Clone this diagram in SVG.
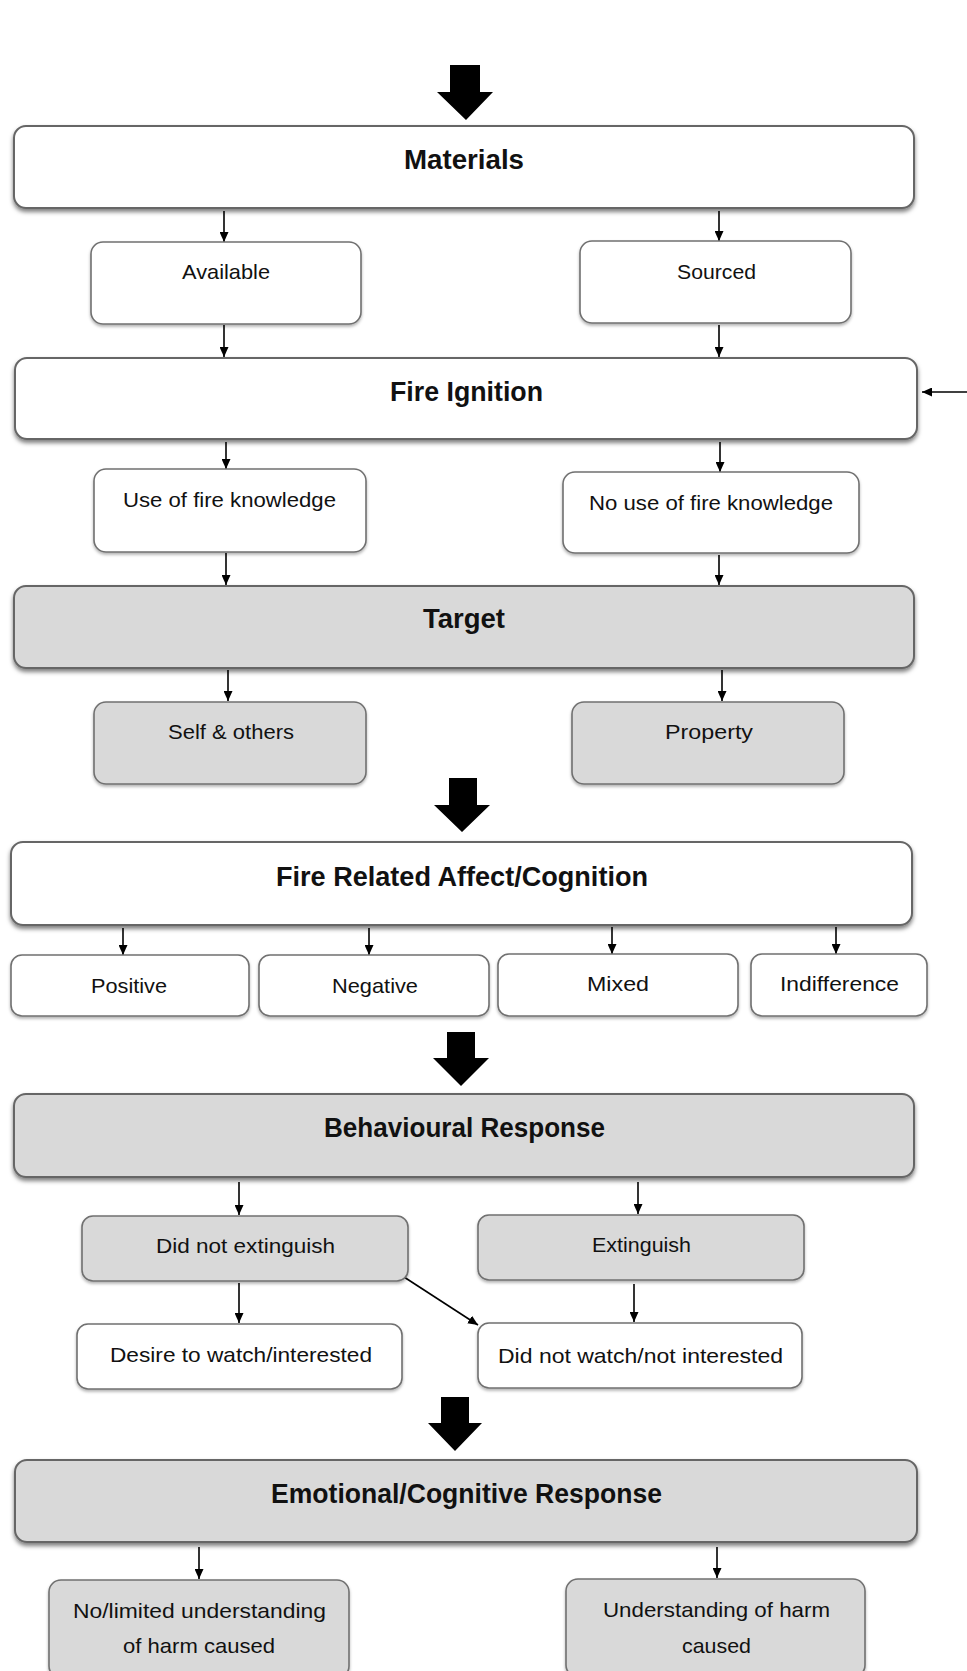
<svg xmlns="http://www.w3.org/2000/svg" width="967" height="1671" viewBox="0 0 967 1671">
<defs>
<style>
.big{stroke:#666;stroke-width:2;filter:url(#shBig)}
.sm{stroke:#707070;stroke-width:1.6;filter:url(#shSm)}
.w{fill:#fff}
.g{fill:#d9d9d9}
.h{font-family:"Liberation Sans",Arial,sans-serif;font-weight:bold;font-size:27px;fill:#111;text-anchor:middle}
.t{font-family:"Liberation Sans",Arial,sans-serif;font-size:21px;fill:#111;text-anchor:middle}
.c{stroke:#000;stroke-width:1.6;fill:none;marker-end:url(#ah)}
.thick{fill:#000}
</style>
<filter id="shBig" x="-5%" y="-20%" width="110%" height="150%">
<feDropShadow dx="0" dy="3" stdDeviation="2" flood-color="#000" flood-opacity="0.5"/>
</filter>
<filter id="shSm" x="-5%" y="-20%" width="110%" height="150%">
<feDropShadow dx="0" dy="2" stdDeviation="1.5" flood-color="#000" flood-opacity="0.3"/>
</filter>
<marker id="ah" markerUnits="userSpaceOnUse" markerWidth="10" markerHeight="9" refX="10" refY="4.5" orient="auto">
<path d="M0,0 L10,4.5 L0,9 z" fill="#000"/>
</marker>
</defs>
<rect width="967" height="1671" fill="#fff"/>

<g id="connectors">
<polygon class="thick" points="450,65 480,65 480,92 493,92 466,120 437,92 450,92"/>
<polygon class="thick" points="449,778 477,778 477,805 490,805 462,832 434,805 449,805"/>
<polygon class="thick" points="447,1032 475,1032 475,1058 489,1058 461,1086 433,1058 447,1058"/>
<polygon class="thick" points="441,1397 469,1397 469,1423 482,1423 455,1451 428,1423 441,1423"/>
<line class="c" x1="224" y1="211" x2="224" y2="242"/>
<line class="c" x1="719" y1="211" x2="719" y2="241"/>
<line class="c" x1="224" y1="325" x2="224" y2="357"/>
<line class="c" x1="719" y1="325" x2="719" y2="357"/>
<line class="c" x1="967" y1="392" x2="922" y2="392"/>
<line class="c" x1="226" y1="442" x2="226" y2="469"/>
<line class="c" x1="720" y1="442" x2="720" y2="472"/>
<line class="c" x1="226" y1="553" x2="226" y2="585"/>
<line class="c" x1="719" y1="555" x2="719" y2="585"/>
<line class="c" x1="228" y1="670" x2="228" y2="701"/>
<line class="c" x1="722" y1="670" x2="722" y2="701"/>
<line class="c" x1="123" y1="928" x2="123" y2="955"/>
<line class="c" x1="369" y1="928" x2="369" y2="955"/>
<line class="c" x1="612" y1="927" x2="612" y2="954"/>
<line class="c" x1="836" y1="927" x2="836" y2="954"/>
<line class="c" x1="239" y1="1182" x2="239" y2="1215"/>
<line class="c" x1="638" y1="1182" x2="638" y2="1214"/>
<line class="c" x1="239" y1="1283" x2="239" y2="1323"/>
<line class="c" x1="634" y1="1284" x2="634" y2="1322"/>
<line class="c" x1="404" y1="1277" x2="478" y2="1325"/>
<line class="c" x1="199" y1="1547" x2="199" y2="1579"/>
<line class="c" x1="717" y1="1547" x2="717" y2="1578"/>
</g>

<g id="materials"><rect class="big w" x="14" y="126" width="900" height="82" rx="12"/><text class="h" x="464" y="169" textLength="120" lengthAdjust="spacingAndGlyphs">Materials</text></g>
<g id="available"><rect class="sm w" x="91" y="242" width="270" height="82" rx="12"/><text class="t" x="226" y="279" textLength="88" lengthAdjust="spacingAndGlyphs">Available</text></g>
<g id="sourced"><rect class="sm w" x="580" y="241" width="271" height="82" rx="12"/><text class="t" x="716.5" y="279" textLength="79" lengthAdjust="spacingAndGlyphs">Sourced</text></g>
<g id="fire-ignition"><rect class="big w" x="15" y="358" width="902" height="81" rx="12"/><text class="h" x="466.5" y="401" textLength="153" lengthAdjust="spacingAndGlyphs">Fire Ignition</text></g>
<g id="use-knowledge"><rect class="sm w" x="94" y="469" width="272" height="83" rx="12"/><text class="t" x="229.5" y="507" textLength="213" lengthAdjust="spacingAndGlyphs">Use of fire knowledge</text></g>
<g id="no-use-knowledge"><rect class="sm w" x="563" y="472" width="296" height="81" rx="12"/><text class="t" x="711" y="510" textLength="244" lengthAdjust="spacingAndGlyphs">No use of fire knowledge</text></g>
<g id="target"><rect class="big g" x="14" y="586" width="900" height="82" rx="12"/><text class="h" x="464" y="628" textLength="82" lengthAdjust="spacingAndGlyphs">Target</text></g>
<g id="self-others"><rect class="sm g" x="94" y="702" width="272" height="82" rx="12"/><text class="t" x="231" y="739" textLength="126" lengthAdjust="spacingAndGlyphs">Self &amp; others</text></g>
<g id="property"><rect class="sm g" x="572" y="702" width="272" height="82" rx="12"/><text class="t" x="709" y="739" textLength="88" lengthAdjust="spacingAndGlyphs">Property</text></g>
<g id="fire-related"><rect class="big w" x="11" y="842" width="901" height="83" rx="12"/><text class="h" x="462" y="886" textLength="372" lengthAdjust="spacingAndGlyphs">Fire Related Affect/Cognition</text></g>
<g id="positive"><rect class="sm w" x="11" y="955" width="238" height="61" rx="11"/><text class="t" x="129" y="993" textLength="76" lengthAdjust="spacingAndGlyphs">Positive</text></g>
<g id="negative"><rect class="sm w" x="259" y="955" width="230" height="61" rx="11"/><text class="t" x="375" y="993" textLength="86" lengthAdjust="spacingAndGlyphs">Negative</text></g>
<g id="mixed"><rect class="sm w" x="498" y="954" width="240" height="62" rx="11"/><text class="t" x="618" y="991" textLength="62" lengthAdjust="spacingAndGlyphs">Mixed</text></g>
<g id="indifference"><rect class="sm w" x="751" y="954" width="176" height="62" rx="11"/><text class="t" x="839.5" y="991" textLength="119" lengthAdjust="spacingAndGlyphs">Indifference</text></g>
<g id="behavioural"><rect class="big g" x="14" y="1094" width="900" height="83" rx="12"/><text class="h" x="464.5" y="1137" textLength="281" lengthAdjust="spacingAndGlyphs">Behavioural Response</text></g>
<g id="did-not-extinguish"><rect class="sm g" x="82" y="1216" width="326" height="65" rx="11"/><text class="t" x="245.5" y="1253" textLength="179" lengthAdjust="spacingAndGlyphs">Did not extinguish</text></g>
<g id="extinguish"><rect class="sm g" x="478" y="1215" width="326" height="65" rx="11"/><text class="t" x="641.5" y="1252" textLength="99" lengthAdjust="spacingAndGlyphs">Extinguish</text></g>
<g id="desire-watch"><rect class="sm w" x="77" y="1324" width="325" height="65" rx="11"/><text class="t" x="241" y="1362" textLength="262" lengthAdjust="spacingAndGlyphs">Desire to watch/interested</text></g>
<g id="did-not-watch"><rect class="sm w" x="478" y="1323" width="324" height="65" rx="11"/><text class="t" x="640.5" y="1363" textLength="285" lengthAdjust="spacingAndGlyphs">Did not watch/not interested</text></g>
<g id="emotional"><rect class="big g" x="15" y="1460" width="902" height="82" rx="12"/><text class="h" x="466.5" y="1503" textLength="391" lengthAdjust="spacingAndGlyphs">Emotional/Cognitive Response</text></g>
<g id="no-limited"><rect class="sm g" x="49" y="1580" width="300" height="98" rx="12"/><text class="t" x="199.5" y="1618" textLength="253" lengthAdjust="spacingAndGlyphs">No/limited understanding</text><text class="t" x="199" y="1653" textLength="152" lengthAdjust="spacingAndGlyphs">of harm caused</text></g>
<g id="understanding"><rect class="sm g" x="566" y="1579" width="299" height="98" rx="12"/><text class="t" x="716.5" y="1617" textLength="227" lengthAdjust="spacingAndGlyphs">Understanding of harm</text><text class="t" x="716.5" y="1653" textLength="69" lengthAdjust="spacingAndGlyphs">caused</text></g>
</svg>
